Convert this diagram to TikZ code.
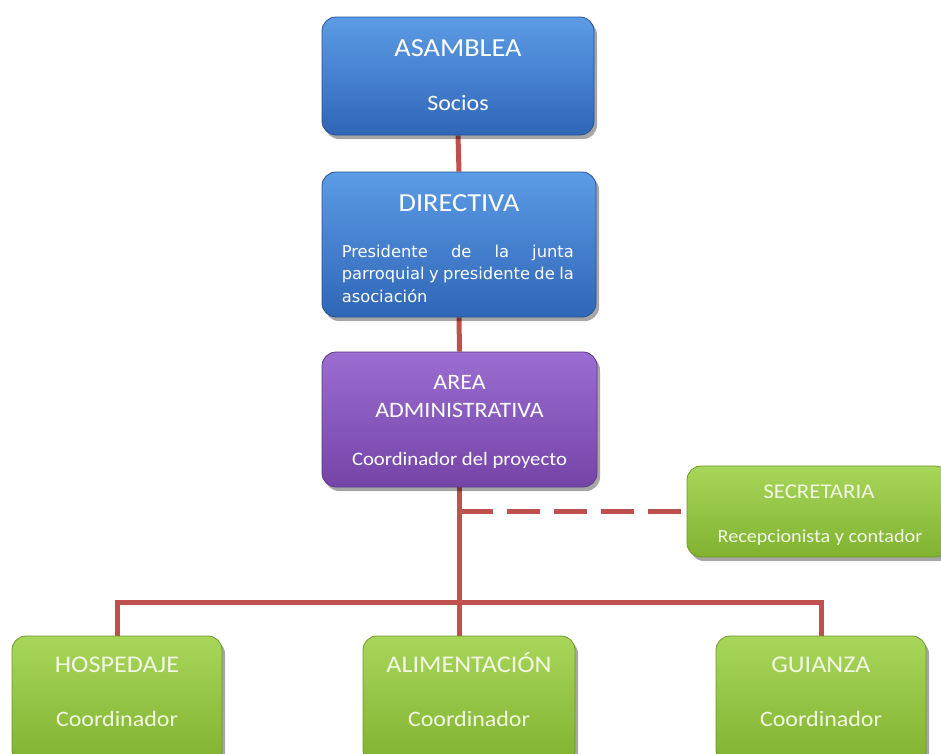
\documentclass[tikz,border=0pt]{standalone}
\usepackage{fontspec}
\setmainfont{Carlito}
\newfontfamily\dirfont{DejaVu Sans}
\usetikzlibrary{positioning,shadows,calc,backgrounds}
\definecolor{orgRed}{HTML}{C0504D}
\definecolor{orgBlueTop}{HTML}{5C9BE6}
\definecolor{orgBlueBot}{HTML}{2F66B6}
\definecolor{orgPurpleTop}{HTML}{9C6DD1}
\definecolor{orgPurpleBot}{HTML}{7445A7}
\definecolor{orgGreenTop}{HTML}{A8D65A}
\definecolor{orgGreenBot}{HTML}{80B230}
\definecolor{orgCream}{HTML}{F2F7E4}

\tikzset{
  orgbox/.style={rounded corners=14pt,line width=0.8pt,inner sep=0pt,
    drop shadow={shadow xshift=3pt,shadow yshift=-4pt,opacity=0.35,fill=black}},
  bluebox/.style={orgbox,draw=orgBlueBot!80!black,top color=orgBlueTop,bottom color=orgBlueBot},
  purplebox/.style={orgbox,draw=orgPurpleBot!80!black,top color=orgPurpleTop,bottom color=orgPurpleBot},
  greenbox/.style={orgbox,draw=orgGreenBot!85!black,top color=orgGreenTop,bottom color=orgGreenBot},
  boxtext/.style={anchor=base,inner sep=0pt,text=white,xscale=1.09,transform shape},
  link/.style={orgRed,line width=5pt},
}

\begin{document}
\begin{tikzpicture}[x=1pt,y=-1pt]
  \useasboundingbox (0,0) rectangle (941,753);
  % upper chain
  \node[bluebox,minimum width=272pt,minimum height=118pt] (asm) at (458,76) {};
  \node[bluebox,minimum width=274pt,minimum height=145pt] (dir) at (459,244.5) {};
  \node[purplebox,minimum width=275pt,minimum height=135pt] (area) at (459.5,419.5) {};
  % staff box, cut by the right edge
  \node[greenbox,minimum width=262pt,minimum height=91pt] (sec) at (818,511.5) {};
  % three coordinators, cut by the bottom edge
  \node[greenbox,minimum width=210pt,minimum height=128pt] (hos) at (117,700) {};
  \node[greenbox,minimum width=212pt,minimum height=128pt] (ali) at (469,700) {};
  \node[greenbox,minimum width=210pt,minimum height=128pt] (gui) at (821,700) {};

  % texts
  \node[boxtext,font=\fontsize{26}{30}\selectfont] (asmT) at ([yshift=-40pt]asm.north) {ASAMBLEA};
  \node[boxtext,font=\fontsize{22}{26}\selectfont] (asmB) at ([yshift=-94pt]asm.north) {Socios};
  \node[boxtext,font=\fontsize{26}{30}\selectfont] (dirT) at ([yshift=-40pt]dir.north) {DIRECTIVA};
  \node[anchor=north west,inner sep=0pt,text=white,text width=232pt,align=justify,
        font=\dirfont\fontsize{16.3}{22.5}\selectfont] (dirB)
        at ([xshift=20pt,yshift=-73pt]dir.north west)
        {\sloppy Presidente de la junta \mbox{parroquial} y presidente de la \mbox{asociación}};
  \node[boxtext,font=\fontsize{22}{26}\selectfont] (areaT1) at ([yshift=-38pt]area.north) {AREA};
  \node[boxtext,font=\fontsize{22}{26}\selectfont] (areaT2) at ([yshift=-66pt]area.north) {ADMINISTRATIVA};
  \node[boxtext,font=\fontsize{19}{23}\selectfont] (areaB) at ([yshift=-114pt]area.north) {Coordinador del proyecto};
  \node[boxtext,text=orgCream,font=\fontsize{21}{25}\selectfont] (secT) at (819,498) {SECRETARIA};
  \node[boxtext,text=orgCream,font=\fontsize{18.5}{22}\selectfont] (secB) at (820,542) {Recepcionista y contador};
  \foreach \b/\t in {hos/HOSPEDAJE,ali/ALIMENTACIÓN,gui/GUIANZA}{
    \node[boxtext,text=orgCream,font=\fontsize{24}{28}\selectfont] (\b T) at ([yshift=-37pt]\b.north) {\t};
    \node[boxtext,text=orgCream,font=\fontsize{22}{26}\selectfont] (\b B) at ([yshift=-91pt]\b.north) {Coordinador};
  }

  % connectors
  \coordinate (hub) at (0,602);
  \begin{scope}[on background layer]
    \draw[link] (asm.south) -- (dir.north);
    \draw[link] (dir.south) -- (area.north);
    \draw[link] (area.south) -- (area.south |- ali.north);
    \draw[link] (hos.north) -- (hos.north |- hub) -- (gui.north |- hub) -- (gui.north);
    \draw[link,dash pattern=on 33pt off 14pt] (area.south |- sec.west) -- (sec.west);
  \end{scope}
\end{tikzpicture}
\end{document}
